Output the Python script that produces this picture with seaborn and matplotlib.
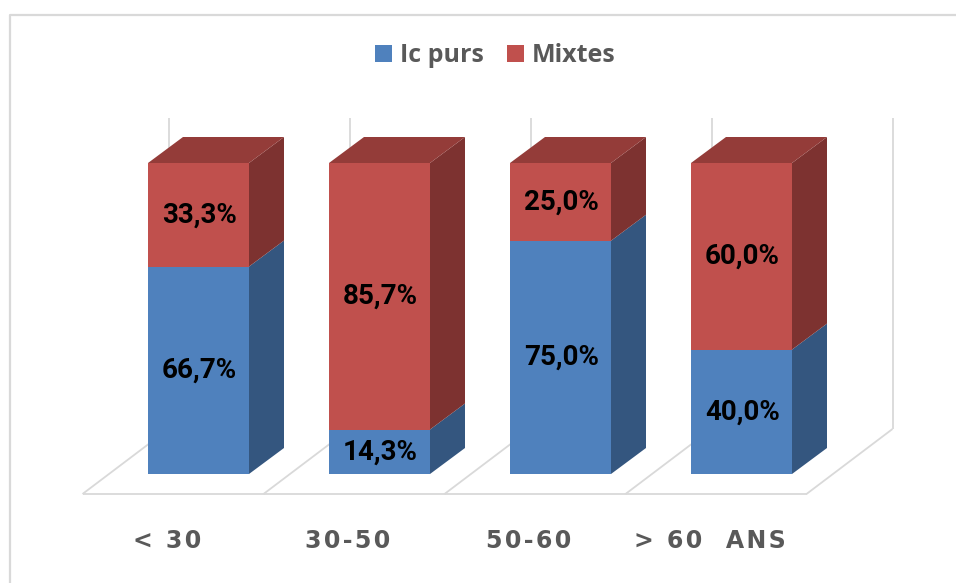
import matplotlib
matplotlib.use("Agg")
import matplotlib.pyplot as plt
from matplotlib.patches import Polygon, Patch
from matplotlib.lines import Line2D
import pandas as pd
import seaborn as sns

# ---- data -------------------------------------------------------------
categories = ["< 30", "30-50", "50-60", "> 60  ANS"]
ic_purs = [66.7, 14.3, 75.0, 40.0]
mixtes = [33.3, 85.7, 25.0, 60.0]
series_names = ["Ic purs", "Mixtes"]

# ---- style ------------------------------------------------------------
BLUE, BLUE_SIDE, BLUE_TOP = "#4F81BD", "#34567F", "#3F6797"
RED, RED_SIDE, RED_TOP = "#C0504D", "#7D3230", "#943C39"
GRID = "#D9D9D9"
TEXT_GRAY = "#595959"

sns.set_theme(style="white")
plt.rcParams["font.family"] = ["Open Sans", "DejaVu Sans"]

W, H = 956, 583
fig = plt.figure(figsize=(W / 100, H / 100), dpi=100)
ax = fig.add_axes([0, 0, 1, 1])

# one category step = 181 px, 1 % = 3.11 px; first bar centred at x=198.5 px, base at row 474
PX_X, PX_Y = 181.0, 3.11
X0_PX, Y0_PX = 198.5, 474.0

bar_w = 101 / PX_X
ddx, ddy = 35 / PX_X, 26 / PX_Y            # depth of each bar
floor_dx, floor_dy = 86 / PX_X, 65 / PX_Y  # depth of the floor
front_dx, front_dy = 25.5 / PX_X, 20 / PX_Y  # bar front set back from floor front

df = pd.DataFrame({"cat": categories, "ic": ic_purs, "mx": mixtes})
df["total"] = df["ic"] + df["mx"]

# front faces: full stack in red, lower segment in blue on top of it
sns.barplot(data=df, x="cat", y="total", order=categories, color=RED,
            saturation=1, width=bar_w, linewidth=0, errorbar=None, ax=ax, zorder=3)
sns.barplot(data=df, x="cat", y="ic", order=categories, color=BLUE,
            saturation=1, width=bar_w, linewidth=0, errorbar=None, ax=ax, zorder=3)

ax.set_xlim(-X0_PX / PX_X, (W - X0_PX) / PX_X)
ax.set_ylim((Y0_PX - H) / PX_Y, Y0_PX / PX_Y)
ax.axis("off")

# floor and back wall
n = len(categories)
bounds = [k - 0.5 - front_dx for k in range(n + 1)]
yf = -front_dy
yb = yf + floor_dy
wall_top = 100 + floor_dy - front_dy
line_kw = dict(color=GRID, lw=1.3, zorder=1, solid_capstyle="butt")
ax.plot([bounds[0], bounds[-1]], [yf, yf], **line_kw)
for b in bounds:
    ax.plot([b, b + floor_dx], [yf, yb], **line_kw)
    ax.plot([b + floor_dx, b + floor_dx], [yb, wall_top], **line_kw)

# 3-D sides and tops
for i, (a, m) in enumerate(zip(ic_purs, mixtes)):
    xl, xr = i - bar_w / 2, i + bar_w / 2
    segs = [(0, a, BLUE_SIDE), (a, a + m, RED_SIDE)]
    for y0, y1, c in segs:
        ax.add_patch(Polygon([(xr, y0), (xr + ddx, y0 + ddy), (xr + ddx, y1 + ddy), (xr, y1)],
                             closed=True, facecolor=c, edgecolor="none", zorder=3))
    top = a + m
    ax.add_patch(Polygon([(xl, top), (xl + ddx, top + ddy), (xr + ddx, top + ddy), (xr, top)],
                         closed=True, facecolor=RED_TOP, edgecolor="none", zorder=3))

    # value labels centred on the front faces
    for y0, v in ((0, a), (a, m)):
        ax.text(i + 0.005, y0 + v / 2, f"{v:.1f}".replace(".", ",") + "%",
                ha="center", va="center", fontsize=20, fontweight="bold",
                color="black", family=["Roboto", "DejaVu Sans"], zorder=5)

    # category labels, letter-spaced
    ax.text(i - 31.5 / PX_X, (Y0_PX - 541) / PX_Y, "\u200a".join(categories[i]),
            ha="center", va="center", fontsize=17, fontweight="bold", color=TEXT_GRAY,
            family=["DejaVu Sans"])

# legend
handles = [Patch(facecolor=BLUE, edgecolor="none"), Patch(facecolor=RED, edgecolor="none")]
fig.legend(handles, series_names, loc="center", bbox_to_anchor=(0.518, 1 - 56 / H), ncol=2,
           frameon=False, handlelength=0.68, handleheight=0.68, handletextpad=0.3,
           columnspacing=0.95, borderpad=0,
           prop=dict(family="Open Sans", weight="bold", size=18), labelcolor=TEXT_GRAY)

# chart area border (left and top edges)
fig.add_artist(Line2D([9.5 / W, 9.5 / W, 1], [0, 1 - 15 / H, 1 - 15 / H],
                      transform=fig.transFigure, color=GRID, lw=1.6))

fig.savefig("out.png", dpi=100)
